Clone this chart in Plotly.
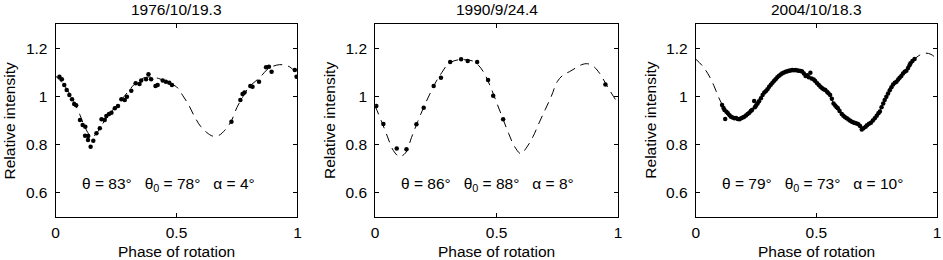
import plotly.graph_objects as go

# ---------------- data ----------------
titles = ["1976/10/19.3", "1990/9/24.4", "2004/10/18.3"]
labels = ["θ = 83°\u00a0\u00a0\u00a0θ<sub>0</sub> = 78°\u00a0\u00a0\u00a0α = 4°",
          "θ = 86°\u00a0\u00a0\u00a0θ<sub>0</sub> = 88°\u00a0\u00a0\u00a0α = 8°",
          "θ = 79°\u00a0\u00a0\u00a0θ<sub>0</sub> = 73°\u00a0\u00a0\u00a0α = 10°"]

model_phase = [0.0, 0.025, 0.05, 0.075, 0.1, 0.125, 0.15, 0.175, 0.2, 0.225,
               0.25, 0.275, 0.3, 0.325, 0.35, 0.375, 0.4, 0.425, 0.45, 0.475,
               0.5, 0.525, 0.55, 0.575, 0.6, 0.625, 0.65, 0.675, 0.7, 0.725,
               0.75, 0.775, 0.8, 0.825, 0.85, 0.875, 0.9, 0.925, 0.95, 0.975, 1.0]

model1 = [1.085, 1.06, 1.025, 0.98, 0.925, 0.865, 0.83, 0.855, 0.895, 0.93,
          0.96, 0.99, 1.02, 1.05, 1.07, 1.08, 1.08, 1.075, 1.065, 1.052,
          1.04, 1.005, 0.965, 0.915, 0.875, 0.85, 0.835, 0.838, 0.86, 0.895,
          0.955, 1.0, 1.04, 1.062, 1.085, 1.112, 1.126, 1.132, 1.13, 1.118, 1.085]

model2 = [0.96, 0.9, 0.835, 0.775, 0.75, 0.765, 0.83, 0.895, 0.955, 1.01,
          1.06, 1.1, 1.135, 1.148, 1.153, 1.152, 1.148, 1.13, 1.095, 1.04,
          0.975, 0.91, 0.845, 0.79, 0.762, 0.79, 0.833, 0.89, 0.945, 1.0,
          1.062, 1.09, 1.103, 1.118, 1.132, 1.136, 1.124, 1.095, 1.052, 1.01, 0.97]

model3 = [1.155, 1.13, 1.095, 1.045, 0.985, 0.94, 0.915, 0.908, 0.913, 0.935,
          0.965, 1.0, 1.033, 1.063, 1.088, 1.103, 1.11, 1.108, 1.095, 1.077,
          1.06, 1.038, 1.01, 0.965, 0.93, 0.908, 0.893, 0.878, 0.87, 0.89,
          0.92, 0.965, 1.02, 1.055, 1.083, 1.11, 1.148, 1.17, 1.18, 1.175, 1.155]

obs1_phase = [0.016, 0.026, 0.036, 0.046, 0.057, 0.068, 0.077, 0.085, 0.101, 0.112,
              0.123, 0.122, 0.135, 0.134, 0.145, 0.156, 0.169, 0.183, 0.19, 0.203,
              0.21, 0.221, 0.231, 0.245, 0.258, 0.272, 0.286, 0.295, 0.313, 0.331,
              0.347, 0.354, 0.374, 0.384, 0.395, 0.413, 0.422, 0.443, 0.456, 0.47,
              0.481, 0.727, 0.764, 0.773, 0.781, 0.805, 0.814, 0.841, 0.87, 0.882,
              0.893, 0.989, 0.996]
obs1_val = [1.082, 1.071, 1.048, 1.027, 1.006, 0.988, 0.969, 0.963, 0.902, 0.881,
            0.874, 0.837, 0.836, 0.819, 0.791, 0.816, 0.847, 0.868, 0.905, 0.902,
            0.919, 0.927, 0.932, 0.951, 0.96, 0.988, 0.985, 0.999, 1.024, 1.055,
            1.052, 1.066, 1.071, 1.092, 1.071, 1.043, 1.048, 1.066, 1.061, 1.057,
            1.048, 0.895, 0.985, 1.01, 1.016, 1.043, 1.04, 1.061, 1.121, 1.124,
            1.103, 1.11, 1.082]

obs2_phase = [0.005, 0.034, 0.089, 0.129, 0.17, 0.2, 0.241, 0.271, 0.309, 0.354,
              0.381, 0.42, 0.465, 0.486, 0.527, 0.948]
obs2_val = [0.96, 0.885, 0.784, 0.78, 0.884, 0.953, 1.043, 1.078, 1.143, 1.155,
            1.147, 1.143, 1.068, 1.003, 0.905, 1.05]

obs3_phase = [0.109, 0.115, 0.119, 0.122, 0.127, 0.133, 0.14, 0.146, 0.153, 0.16,
              0.167, 0.174, 0.181, 0.188, 0.195, 0.201, 0.208, 0.215, 0.222, 0.228,
              0.233, 0.242, 0.245, 0.25, 0.256, 0.262, 0.27, 0.277, 0.284, 0.29,
              0.297, 0.304, 0.311, 0.318, 0.325, 0.331, 0.338, 0.345, 0.352, 0.359,
              0.366, 0.373, 0.38, 0.386, 0.393, 0.4, 0.407, 0.414, 0.421, 0.428,
              0.435, 0.441, 0.448, 0.455, 0.462, 0.468, 0.475, 0.48, 0.489, 0.495,
              0.503, 0.51, 0.517, 0.524, 0.53, 0.537, 0.544, 0.55, 0.557, 0.564,
              0.571, 0.578, 0.584, 0.589, 0.596, 0.605, 0.612, 0.619, 0.626, 0.633,
              0.64, 0.647, 0.654, 0.66, 0.667, 0.674, 0.681, 0.688, 0.695, 0.704,
              0.71, 0.718, 0.726, 0.734, 0.742, 0.75, 0.757, 0.763, 0.77, 0.777,
              0.783, 0.79, 0.797, 0.804, 0.811, 0.818, 0.825, 0.832, 0.839, 0.845,
              0.852, 0.859, 0.866, 0.873, 0.88, 0.886, 0.89, 0.898, 0.907]
obs3_val = [0.964, 0.952, 0.944, 0.906, 0.936, 0.93, 0.922, 0.916, 0.912, 0.909,
            0.91, 0.906, 0.905, 0.909, 0.912, 0.916, 0.921, 0.927, 0.932, 0.94,
            0.944, 0.981, 0.955, 0.962, 0.971, 0.98, 0.993, 1.006, 1.016, 1.022,
            1.03, 1.04, 1.049, 1.057, 1.065, 1.072, 1.08, 1.086, 1.091, 1.096,
            1.1, 1.103, 1.105, 1.107, 1.108, 1.11, 1.109, 1.11, 1.108, 1.107,
            1.106, 1.104, 1.095, 1.085, 1.088, 1.08, 1.099, 1.075, 1.07, 1.064,
            1.055, 1.048, 1.04, 1.034, 1.03, 1.027, 1.02, 1.013, 1.006, 0.99,
            0.971, 0.962, 0.955, 0.951, 0.94, 0.927, 0.92, 0.914, 0.909, 0.904,
            0.899, 0.895, 0.892, 0.89, 0.888, 0.884, 0.877, 0.863, 0.868, 0.874,
            0.88, 0.886, 0.891, 0.9, 0.909, 0.92, 0.93, 0.937, 0.955, 0.971,
            0.985, 0.999, 1.012, 1.026, 1.038, 1.05, 1.057, 1.061, 1.07, 1.078,
            1.085, 1.095, 1.103, 1.107, 1.118, 1.13, 1.138, 1.147, 1.156]

x_ticks = [0, 0.5, 1]
x_ticktext = ["0", "0.5", "1"]
y_ticks = [0.6, 0.8, 1.0, 1.2]
y_ticktext = ["0.6", "0.8", "1", "1.2"]

models = [model1, model2, model3]
obs = [(obs1_phase, obs1_val), (obs2_phase, obs2_val), (obs3_phase, obs3_val)]

# ---------------- layout geometry ----------------
W, H = 943, 260
x_px = [(52, 296), (374.3, 619.3), (697.7, 941)]
y_top, y_bot = 24.3, 216.7
ydom = [1 - y_bot / H, 1 - y_top / H]
FONT = "Liberation Sans, Arial, Helvetica, sans-serif"
FS = 15.5

fig = go.Figure()
for i in range(3):
    xa = "x" if i == 0 else f"x{i+1}"
    ya = "y" if i == 0 else f"y{i+1}"
    fig.add_trace(go.Scatter(x=model_phase, y=models[i], mode="lines",
                             line=dict(color="black", width=1, dash="9px,6px", shape="spline"),
                             xaxis=xa, yaxis=ya, showlegend=False, hoverinfo="skip"))
    fig.add_trace(go.Scatter(x=obs[i][0], y=obs[i][1], mode="markers",
                             marker=dict(color="black", size=4.5, line=dict(width=0)),
                             xaxis=xa, yaxis=ya, showlegend=False))

layout = dict(width=W, height=H, margin=dict(l=0, r=0, t=0, b=0),
              paper_bgcolor="white", plot_bgcolor="white",
              font=dict(family=FONT, size=FS, color="black"), showlegend=False)
annotations = []
for i in range(3):
    sfx = "" if i == 0 else str(i + 1)
    x0, x1 = x_px[i]
    layout["xaxis" + sfx] = dict(domain=[x0 / W, x1 / W], range=[0, 1], anchor="y" + sfx,
                                 tickvals=x_ticks, ticktext=x_ticktext, ticks="inside", ticklen=4,
                                 tickcolor="black", showline=True, linecolor="black", linewidth=1,
                                 mirror="ticks", showgrid=False, zeroline=False,
                                 ticklabelstandoff=2,
                                 tickfont=dict(size=FS, family=FONT, color="black"))
    layout["yaxis" + sfx] = dict(domain=ydom, range=[0.5, 1.3], anchor="x" + sfx,
                                 tickvals=y_ticks, ticktext=y_ticktext, ticks="inside", ticklen=4,
                                 tickcolor="black", showline=True, linecolor="black", linewidth=1,
                                 mirror="ticks", showgrid=False, zeroline=False,
                                 ticklabelstandoff=4,
                                 tickfont=dict(size=FS, family=FONT, color="black"))
    cx = (x0 + x1) / 2 / W
    annotations.append(dict(text=titles[i], x=cx, y=1.0, xref="paper", yref="paper",
                            xanchor="center", yanchor="top", showarrow=False,
                            borderpad=0,
                            font=dict(size=15.5, family=FONT, color="black")))
    annotations.append(dict(text="Phase of rotation", x=cx, y=1 - 251 / H, xref="paper", yref="paper",
                            xanchor="center", yanchor="middle", showarrow=False,
                            font=dict(size=FS, family=FONT, color="black")))
    annotations.append(dict(text="Relative intensity", x=(x0 - 46) / W, y=(ydom[0] + ydom[1]) / 2,
                            xref="paper", yref="paper", xanchor="center", yanchor="middle",
                            textangle=-90, showarrow=False,
                            font=dict(size=FS, family=FONT, color="black")))
    annotations.append(dict(text=labels[i], x=0.1, y=0.635, xref="x" + sfx, yref="y" + sfx,
                            xanchor="left", yanchor="middle", showarrow=False,
                            font=dict(size=FS, family=FONT, color="black")))
layout["annotations"] = annotations
fig.update_layout(**layout)
fig.write_html("out.html", config={"displayModeBar": False},
               post_script="document.body.style.margin='0';document.body.style.padding='0';"
                           "document.documentElement.style.overflow='hidden';")
